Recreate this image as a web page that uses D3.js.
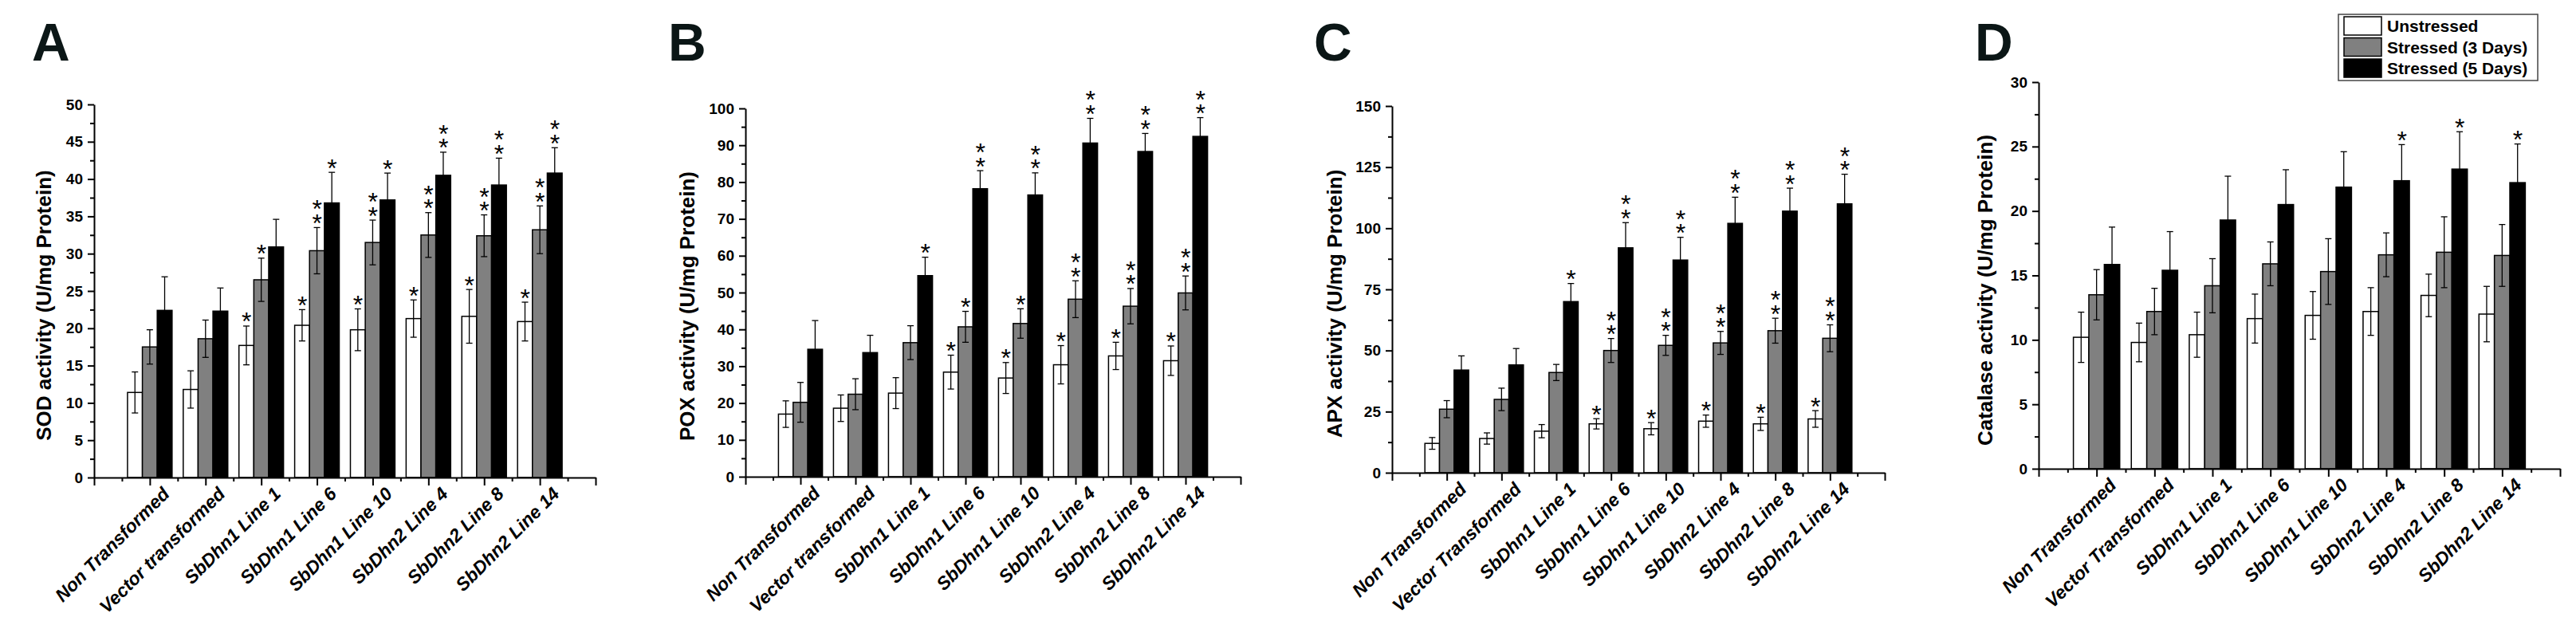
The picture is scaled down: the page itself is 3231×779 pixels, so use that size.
<!DOCTYPE html>
<html>
<head>
<meta charset="UTF-8">
<title>Antioxidant enzyme activity</title>
<script src="https://d3js.org/d3.v7.min.js"></script>
<style>
  body { margin: 0; background: #fff; }
  text { font-family: "Liberation Sans", Arial, sans-serif; }
</style>
</head>
<body>
<div id="chart"></div>
<script>
// categories (panel C and D spell "Transformed" with a capital T)
const categoriesAB = ["Non Transformed", "Vector transformed", "SbDhn1 Line 1", "SbDhn1 Line 6",
  "SbDhn1 Line 10", "SbDhn2 Line 4", "SbDhn2 Line 8", "SbDhn2 Line 14"];
const categoriesCD = ["Non Transformed", "Vector Transformed", "SbDhn1 Line 1", "SbDhn1 Line 6",
  "SbDhn1 Line 10", "SbDhn2 Line 4", "SbDhn2 Line 8", "SbDhn2 Line 14"];
const seriesNames = ["Unstressed", "Stressed (3 Days)", "Stressed (5 Days)"];

// A - SOD
const sodUnstressed = [11.4, 11.8, 17.7, 20.4, 19.8, 21.3, 21.6, 20.9];
const sodUnstressedErr = [2.75, 2.5, 2.6, 2.1, 2.8, 2.5, 3.6, 2.6];
const sodStress3 = [17.5, 18.6, 26.5, 30.4, 31.5, 32.5, 32.4, 33.2];
const sodStress3Err = [2.3, 2.5, 2.9, 3.1, 3.0, 3.0, 2.8, 3.2];
const sodStress5 = [22.4, 22.3, 30.9, 36.8, 37.2, 40.5, 39.2, 40.8];
const sodStress5Err = [4.5, 3.1, 3.7, 4.1, 3.6, 3.1, 3.6, 3.4];
const sodStars = [[0, 0, 1, 1, 1, 1, 1, 1], [0, 0, 1, 2, 2, 2, 2, 2], [0, 0, 0, 1, 1, 2, 2, 2]];
const sodTicks = [0, 5, 10, 15, 20, 25, 30, 35, 40, 45, 50];

// B - POX
const poxUnstressed = [17.0, 18.6, 22.7, 28.4, 26.8, 30.4, 32.8, 31.5];
const poxUnstressedErr = [3.6, 3.6, 4.2, 4.6, 4.2, 5.2, 3.7, 4.0];
const poxStress3 = [20.2, 22.4, 36.4, 40.7, 41.6, 48.2, 46.3, 49.9];
const poxStress3Err = [5.4, 4.2, 4.6, 4.2, 4.0, 5.0, 4.8, 4.6];
const poxStress5 = [34.6, 33.7, 54.6, 78.2, 76.5, 90.6, 88.3, 92.4];
const poxStress5Err = [7.8, 4.7, 5.0, 4.9, 6.0, 6.7, 4.9, 5.1];
const poxStars = [[0, 0, 0, 1, 1, 1, 1, 1], [0, 0, 0, 1, 1, 2, 2, 2], [0, 0, 1, 2, 2, 2, 2, 2]];
const poxTicks = [0, 10, 20, 30, 40, 50, 60, 70, 80, 90, 100];

// C - APX
const apxUnstressed = [12.0, 14.0, 17.0, 20.0, 18.0, 21.1, 20.0, 22.0];
const apxUnstressedErr = [2.4, 2.3, 2.7, 2.1, 2.5, 2.5, 2.7, 3.4];
const apxStress3 = [26.0, 30.0, 41.0, 50.0, 52.1, 53.1, 58.1, 55.0];
const apxStress3Err = [3.5, 4.6, 3.3, 4.9, 4.1, 4.7, 5.1, 5.5];
const apxStress5 = [42.0, 44.1, 70.0, 92.0, 87.0, 102.0, 107.0, 110.0];
const apxStress5Err = [5.8, 6.7, 7.4, 10.3, 9.3, 10.7, 9.4, 12.1];
const apxStars = [[0, 0, 0, 1, 1, 1, 1, 1], [0, 0, 0, 2, 2, 2, 2, 2], [0, 0, 1, 2, 2, 2, 2, 2]];
const apxTicks = [0, 25, 50, 75, 100, 125, 150];

// D - Catalase
const catUnstressed = [10.2, 9.8, 10.4, 11.65, 11.9, 12.2, 13.45, 12.0];
const catUnstressedErr = [1.95, 1.5, 1.75, 1.9, 1.85, 1.85, 1.65, 2.15];
const catStress3 = [13.5, 12.2, 14.2, 15.9, 15.3, 16.6, 16.8, 16.55];
const catStress3Err = [1.95, 1.8, 2.1, 1.7, 2.55, 1.7, 2.75, 2.4];
const catStress5 = [15.85, 15.4, 19.3, 20.5, 21.85, 22.35, 23.25, 22.2];
const catStress5Err = [2.9, 3.0, 3.4, 2.7, 2.75, 2.8, 2.9, 3.0];
const catStars = [[0, 0, 0, 0, 0, 0, 0, 0], [0, 0, 0, 0, 0, 0, 0, 0], [0, 0, 0, 0, 0, 1, 1, 1]];
const catTicks = [0, 5, 10, 15, 20, 25, 30];

const fills = ["#ffffff", "#808080", "#000000"];
const W = 3231, H = 779;

// panel layout: x0/x1 = ends of x axis, yb/yt = pixel rows for 0 and the top tick
const panels = [
  { letter: "A", lx: 40, x0: 118, x1: 747, yb: 599, yt: 131, tx: 55, ty: 383,
    title: "SOD activity (U/mg Protein)", cats: categoriesAB, ticks: sodTicks,
    means: [sodUnstressed, sodStress3, sodStress5], errs: [sodUnstressedErr, sodStress3Err, sodStress5Err], stars: sodStars },
  { letter: "B", lx: 838, x0: 935, x1: 1556, yb: 598, yt: 136, tx: 862, ty: 384,
    title: "POX activity (U/mg Protein)", cats: categoriesAB, ticks: poxTicks,
    means: [poxUnstressed, poxStress3, poxStress5], errs: [poxUnstressedErr, poxStress3Err, poxStress5Err], stars: poxStars },
  { letter: "C", lx: 1648, x0: 1746, x1: 2364, yb: 593, yt: 133, tx: 1674, ty: 381,
    title: "APX activity (U/mg Protein)", cats: categoriesCD, ticks: apxTicks,
    means: [apxUnstressed, apxStress3, apxStress5], errs: [apxUnstressedErr, apxStress3Err, apxStress5Err], stars: apxStars },
  { letter: "D", lx: 2477, x0: 2557, x1: 3211, yb: 588, yt: 103, tx: 2490, ty: 364,
    title: "Catalase activity (U/mg Protein)", cats: categoriesCD, ticks: catTicks,
    means: [catUnstressed, catStress3, catStress5], errs: [catUnstressedErr, catStress3Err, catStress5Err], stars: catStars }
];

// ink metrics of the asterisk, so stacked stars can be one text running upward
const starSize = 32, starGap = 17.5;
const ctx = document.createElement("canvas").getContext("2d");
ctx.font = `${starSize}px "Liberation Sans", Arial, sans-serif`;
const sm = ctx.measureText("*");
const inkDx = (sm.actualBoundingBoxRight - sm.actualBoundingBoxLeft) / 2;
const inkDy = (sm.actualBoundingBoxDescent - sm.actualBoundingBoxAscent) / 2;

const svg = d3.select("#chart").append("svg")
  .attr("width", W).attr("height", H);

panels.forEach(p => {
  const g = svg.append("g");
  const nCat = p.cats.length;
  const x = d3.scaleLinear().domain([0, nCat + 1]).range([p.x0, p.x1]);
  const top = p.ticks[p.ticks.length - 1];
  const step = p.ticks[1] - p.ticks[0];
  const y = d3.scaleLinear().domain([0, top]).range([p.yb, p.yt]);
  const bw = (x(1) - x(0)) * 0.8 / 3;

  // panel letter
  g.append("text").attr("x", p.lx).attr("y", 76)
    .attr("font-size", 66).attr("font-weight", "bold").attr("fill", "#0b1616")
    .text(p.letter);

  // bars + error bars + stars
  p.means.forEach((vals, s) => {
    vals.forEach((v, i) => {
      const cx = x(i + 1) + (s - 1) * bw;
      const e = p.errs[s][i];
      g.append("rect")
        .attr("x", cx - bw / 2).attr("y", y(v))
        .attr("width", bw).attr("height", y(0) - y(v))
        .attr("fill", fills[s]).attr("stroke", "#000").attr("stroke-width", 1.5);
      const eb = g.append("g").attr("stroke", "#000").attr("stroke-width", 1.3);
      eb.append("line").attr("x1", cx).attr("x2", cx).attr("y1", y(v - e)).attr("y2", y(v + e));
      [v - e, v + e].forEach(t => {
        eb.append("line").attr("x1", cx - 4).attr("x2", cx + 4).attr("y1", y(t)).attr("y2", y(t));
      });
      const n = p.stars[s][i];
      if (n > 0) {
        // text turned to run upward, each glyph turned back upright
        const ax = cx - inkDx, ay = y(v + e) - 10.5 - inkDy;
        g.append("text")
          .attr("transform", `translate(${ax},${ay}) rotate(-90)`)
          .attr("rotate", "90")
          .attr("font-size", starSize)
          .attr("letter-spacing", starGap - sm.width)
          .text("*".repeat(n));
      }
    });
  });

  // y axis
  const minorY = d3.range(0, top + step / 4, step / 2).filter(v => !p.ticks.includes(v));
  g.append("g").attr("transform", `translate(${p.x0},0)`)
    .call(d3.axisLeft(y).tickValues(minorY).tickSize(5).tickSizeOuter(0).tickFormat(""))
    .call(a => a.select(".domain").remove())
    .selectAll("line").attr("stroke-width", 2);
  const ya = g.append("g").attr("transform", `translate(${p.x0},0)`)
    .call(d3.axisLeft(y).tickValues(p.ticks).tickSize(8).tickSizeOuter(0).tickPadding(6));
  ya.select(".domain").attr("stroke-width", 2);
  ya.selectAll("line").attr("stroke-width", 2);
  ya.selectAll("text").attr("font-size", 19).attr("font-weight", "bold")
    .attr("font-family", '"Liberation Sans", Arial, sans-serif');

  // x axis
  const majorX = d3.range(0, nCat + 2);
  const minorX = d3.range(0.5, nCat + 1, 1);
  g.append("g").attr("transform", `translate(0,${p.yb})`)
    .call(d3.axisBottom(x).tickValues(minorX).tickSize(5).tickSizeOuter(0).tickFormat(""))
    .call(a => a.select(".domain").remove())
    .selectAll("line").attr("stroke-width", 2);
  const xa = g.append("g").attr("transform", `translate(0,${p.yb})`)
    .call(d3.axisBottom(x).tickValues(majorX).tickSize(10).tickSizeOuter(0).tickFormat(""));
  xa.select(".domain").attr("stroke-width", 2);
  xa.selectAll("line").attr("stroke-width", 2);

  // category labels
  p.cats.forEach((c, i) => {
    g.append("text")
      .attr("transform", `translate(${x(i + 1) + 26},${p.yb + 22}) rotate(-45)`)
      .attr("text-anchor", "end").attr("font-size", 23)
      .attr("font-weight", "bold").attr("font-style", "italic")
      .text(c);
  });

  // y title
  g.append("text")
    .attr("transform", `translate(${p.tx},${p.ty}) rotate(-90)`)
    .attr("text-anchor", "middle").attr("dy", "0.36em")
    .attr("font-size", 26).attr("font-weight", "bold")
    .text(p.title);
});

// legend
const lg = svg.append("g").attr("transform", "translate(2933,18)");
lg.append("rect").attr("width", 250).attr("height", 83)
  .attr("fill", "#fff").attr("stroke", "#444").attr("stroke-width", 1.5);
seriesNames.forEach((n, s) => {
  lg.append("rect").attr("x", 7).attr("y", 3 + s * 26.5).attr("width", 47).attr("height", 23)
    .attr("fill", fills[s]).attr("stroke", "#000").attr("stroke-width", 1.5);
  lg.append("text").attr("x", 61).attr("y", 22 + s * 26.5)
    .attr("font-size", 21).attr("font-weight", "bold").text(n);
});
</script>
</body>
</html>
